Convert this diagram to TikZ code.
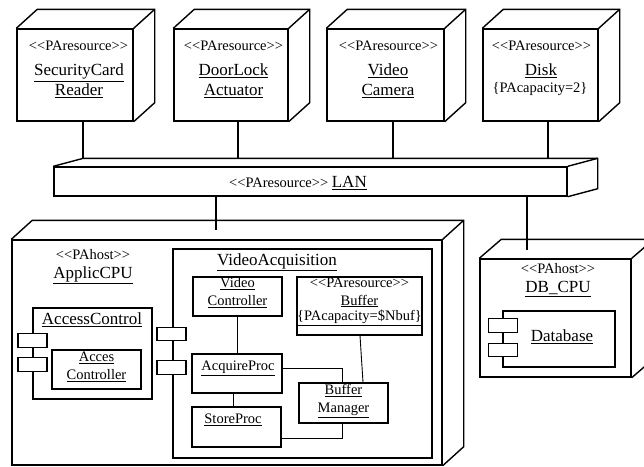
\documentclass[tikz,border=0pt]{standalone}
\usepackage{fontspec}
\setmainfont{Liberation Serif}
\usetikzlibrary{calc}
\tikzset{
  box/.style={draw, line width=1.4pt, fill=white, inner sep=0pt},
  conn/.style={line width=1.4pt},
  fine/.style={line width=0.9pt},
  txt/.style={inner sep=0pt, align=center},
  big/.style={font=\fontsize{17}{20}\selectfont},
  sml/.style={font=\fontsize{14.5}{18}\selectfont},
  port/.style={box, minimum width=29pt, minimum height=13.5pt},
}
\newcommand\cubeedges[3]{%
  \draw[line width=1.4pt, line join=miter] (#1.north west) -- ++(#2,#3) -- ($(#1.north east)+(#2,#3)$) -- ($(#1.south east)+(#2,#3)$) -- (#1.south east);
  \draw[line width=1.4pt] (#1.north east) -- ++(#2,#3);}
\newcommand\stereo[1]{<{}<#1>{}>}
\begin{document}
\begin{tikzpicture}[x=1pt,y=-1pt]
\useasboundingbox (0,0) rectangle (644,466);
\clip (0,0) rectangle (644,466);
% resource cubes
\node[box, minimum width=116pt, minimum height=92pt] (sc) at (75,75) {};
\cubeedges{sc}{21}{-19}
\node[box, minimum width=114pt, minimum height=92pt] (dl) at (231,75) {};
\cubeedges{dl}{21}{-19}
\node[box, minimum width=117pt, minimum height=92pt] (vcam) at (385.5,75) {};
\cubeedges{vcam}{21}{-19}
\node[box, minimum width=115pt, minimum height=92pt] (disk) at (540.5,75) {};
\cubeedges{disk}{21}{-19}
\node[txt, sml] (sct1) at (78.5,46) {\stereo{PAresource}};
\node[txt, big] (sct2) at (79,81) {\underline{SecurityCard}\\\underline{Reader}};
\node[txt, sml] (dlt1) at (233.5,46) {\stereo{PAresource}};
\node[txt, big] (dlt2) at (233.5,81) {\underline{DoorLock}\\\underline{Actuator}};
\node[txt, sml] (vct1) at (388.5,46) {\stereo{PAresource}};
\node[txt, big] (vct2) at (388,81) {\underline{Video}\\\underline{Camera}};
\node[txt, sml] (dkt1) at (541.5,46) {\stereo{PAresource}};
\node[txt, big] (dkt2) at (541,71) {\underline{Disk}};
\node[txt, sml] (dkt3) at (540,89) {\{PAcapacity=2\}};
% LAN
\node[box, minimum width=513pt, minimum height=29pt] (lan) at (310.5,181.5) {};
\cubeedges{lan}{30}{-8}
\node[txt] (lant) at (298,183) {\fontsize{14.5}{18}\selectfont\stereo{PAresource} \fontsize{17}{20}\selectfont\underline{LAN}};
\coordinate (c1) at (83,159);
\coordinate (c2) at (238,159);
\coordinate (c3) at (393,159);
\coordinate (c4) at (548,159);
\draw[conn] (c1 |- sc.south) -- (c1);
\draw[conn] (c2 |- dl.south) -- (c2);
\draw[conn] (c3 |- vcam.south) -- (c3);
\draw[conn] (c4 |- disk.south) -- (c4);
% ApplicCPU
\node[box, minimum width=430pt, minimum height=225pt] (app) at (227,352.5) {};
\cubeedges{app}{21}{-19}
\coordinate (a1) at (216,230);
\draw[conn] (a1 |- lan.south) -- (a1);
\node[txt, sml] (appt1) at (93,255) {\stereo{PAhost}};
\node[txt, big] (appt2) at (93,275) {\underline{ApplicCPU}};
% DB_CPU
\node[box, minimum width=151pt, minimum height=118pt] (db) at (555.5,318) {};
\cubeedges{db}{22}{-19}
\coordinate (a2) at (527,250);
\draw[conn] (a2 |- lan.south) -- (a2);
\node[txt, sml] (dbt1) at (558,269) {\stereo{PAhost}};
\node[txt, big] (dbt2) at (558,289) {\underline{DB\_CPU}};
\node[box, minimum width=112pt, minimum height=56pt] (dbase) at (559,339) {};
\node[port] (dbp1) at (503,325.5) {};
\node[port] (dbp2) at (503,350) {};
\node[txt, big] (dbaset) at (562,337) {\underline{Database}};
% AccessControl
\node[box, minimum width=119pt, minimum height=91pt] (ac) at (92.5,353.5) {};
\node[port] (acp1) at (32.5,340.5) {};
\node[port] (acp2) at (32.5,364.5) {};
\node[txt, big] (act) at (92,320) {\underline{AccessControl}};
\node[box, minimum width=89pt, minimum height=39pt] (acc) at (96.5,369.5) {};
\node[txt, sml] (acct) at (96.5,367) {\underline{Acces}\\\underline{Controller}};
% VideoAcquisition
\node[box, minimum width=259pt, minimum height=209pt] (va) at (302.5,353.5) {};
\node[port] (vap1) at (171.5,334) {};
\node[port] (vap2) at (171.5,367.5) {};
\node[txt, big] (vat) at (277,262) {\underline{VideoAcquisition}};
\node[box, minimum width=89pt, minimum height=39pt] (vc) at (237.5,296.5) {};
\node[txt, sml] (vct) at (237.5,293) {\underline{Video}\\\underline{Controller}};
\node[box, minimum width=125pt, minimum height=58pt] (buf) at (359.5,306) {};
\node[txt, sml] (buft1) at (359.5,283) {\stereo{PAresource}};
\node[txt, sml] (buft2) at (359.5,301) {\underline{Buffer}};
\node[txt, sml] (buft3) at (359.5,318) {\underline{\{PAcapacity=\$Nbuf\}}};
\node[box, minimum width=90pt, minimum height=39pt] (acq) at (237,373.5) {};
\node[txt, sml] (acqt) at (238,368) {\underline{AcquireProc}};
\node[box, minimum width=89pt, minimum height=40pt] (st) at (236.5,427) {};
\node[txt, sml] (stt) at (233,420) {\underline{StoreProc}};
\node[box, minimum width=89pt, minimum height=40pt] (bm) at (343.5,403) {};
\node[txt, sml] (bmt) at (343.5,401) {\underline{Buffer}\\\underline{Manager}};
% inner connectors
\draw[fine] (vc.south) -- (vc.south |- acq.north);
\draw[fine] ($(acq.south)+(-4,0)$) -- ($(st.north)+(-3.5,0)$);
\draw[fine] ($(acq.east)+(0,-5.5)$) -| ($(bm.north)+(-1.5,0)$);
\draw[fine] ($(st.east)+(0,11)$) -| ($(bm.south)+(-1.5,0)$);
\draw[fine] ($(buf.south)+(0.5,0)$) -- ($(bm.north)+(19.5,0)$);
\end{tikzpicture}
\end{document}
